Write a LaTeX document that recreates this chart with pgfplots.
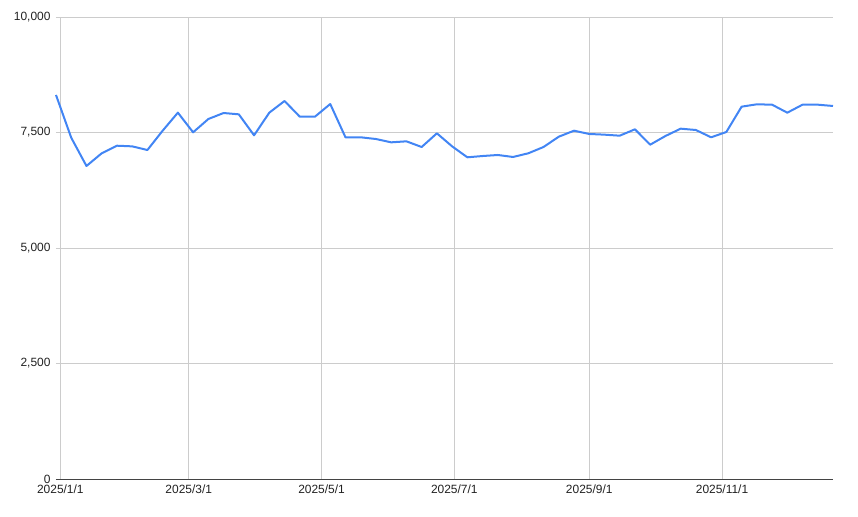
\documentclass[border=0pt]{standalone}
\usepackage{fontspec}
\setmainfont{Liberation Sans}
\usepackage{pgfplots}
\pgfplotsset{compat=1.18}
\definecolor{gblue}{HTML}{4285F4}
\definecolor{ggrid}{HTML}{CCCCCC}
\definecolor{gtext}{HTML}{222222}

% weekly values (Mondays), x = days since 2025/1/1
\pgfplotstableread{
day   val
-2    8312
5     7387
12    6775
19    7050
26    7214
33    7200
40    7121
47    7539
54    7929
61    7504
68    7792
75    7922
82    7893
89    7439
96    7929
103   8182
110   7843
117   7843
124   8117
131   7396
138   7396
145   7359
152   7287
159   7309
166   7186
173   7482
180   7200
187   6963
194   6991
201   7013
208   6970
215   7050
222   7186
229   7409
236   7539
243   7468
250   7453
257   7431
264   7569
271   7236
278   7424
285   7583
292   7554
299   7396
306   7511
313   8059
320   8110
327   8102
334   7929
341   8102
348   8102
355   8074
}\weekly

\begin{document}
\begin{tikzpicture}
  \begin{axis}[
      scale only axis,
      width=777bp, height=462bp,
      xmin=-2, xmax=355,
      ymin=0, ymax=10000,
      xtick={0,59,120,181,243,304},
      xticklabels={2025/1/1,2025/3/1,2025/5/1,2025/7/1,2025/9/1,2025/11/1},
      ytick={0,2500,5000,7500,10000},
      scaled y ticks=false,
      yticklabel style={/pgf/number format/.cd, fixed, precision=0, 1000 sep={,}, assume math mode=true},
      tick label style={font=\fontsize{12}{14}\selectfont, text=gtext},
      major tick length=0pt,
      grid=major,
      grid style={ggrid, line width=0.8bp},
      axis line style={draw=none},
      yticklabel shift=2bp,
      xticklabel shift=2bp,
      clip=false,
    ]
    \addplot[gblue, line width=2bp, line join=round] table[x=day, y=val] {\weekly};
    \draw[gtext!85, line width=1bp] (axis cs:-2,0) -- (axis cs:355,0);
  \end{axis}
  \path[use as bounding box] (current axis.south west) ++(-56bp,-38bp) rectangle ([shift={(25bp,17bp)}]current axis.north east);
\end{tikzpicture}
\end{document}
